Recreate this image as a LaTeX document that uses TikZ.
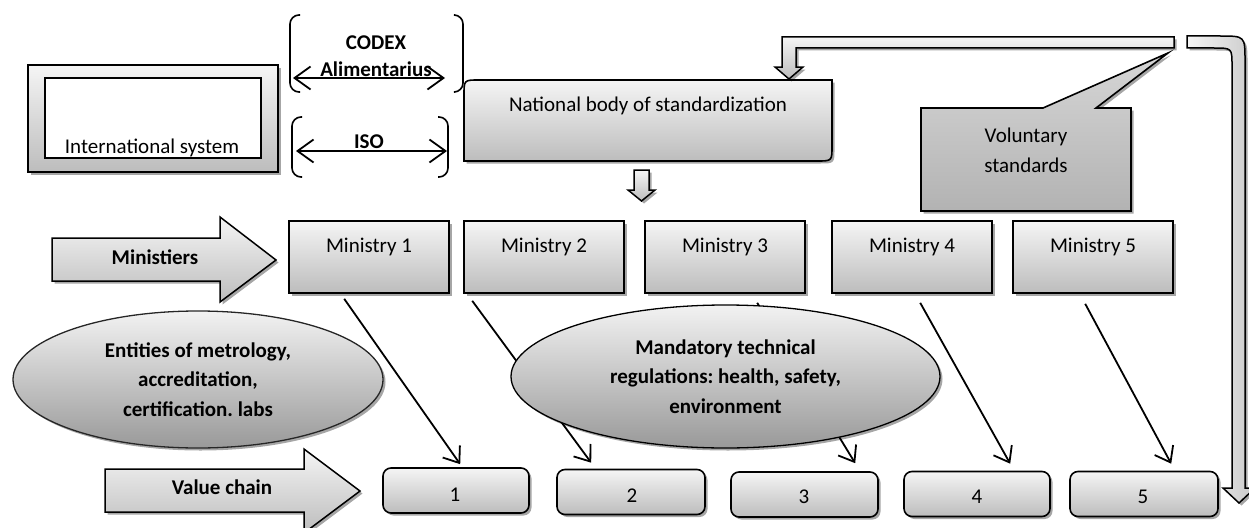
\documentclass[tikz,border=0pt]{standalone}
\usepackage{fontspec}
\setmainfont{Carlito}
\usetikzlibrary{shapes.geometric,shadows,calc,arrows.meta}
\definecolor{gtop}{gray}{0.96}
\definecolor{gbot}{gray}{0.74}
\definecolor{etop}{gray}{0.95}
\definecolor{ebot}{gray}{0.60}
\definecolor{vtop}{gray}{0.84}
\definecolor{vbot}{gray}{0.70}
\frenchspacing
\begin{document}
\begin{tikzpicture}[x=1pt,y=-1pt,
  font=\fontsize{21}{29.5}\selectfont,
  shd/.style={drop shadow={shadow xshift=2.5pt,shadow yshift=-2.5pt,fill=black,opacity=0.35}},
  gfill/.style={draw=black,line width=1.6pt,top color=gtop,bottom color=gbot,shd},
  mbox/.style={gfill,rectangle,minimum width=160pt,minimum height=72pt,inner sep=0pt},
  vbox/.style={gfill,rectangle,rounded corners=8pt,minimum height=45pt,inner sep=0pt},
  txt/.style={inner sep=0pt,anchor=base},
  btxt/.style={txt,font=\fontsize{21}{29.5}\selectfont\bfseries},
  ell/.style={ellipse,draw=black!85,line width=1.3pt,top color=etop,bottom color=ebot,shd,inner sep=0pt,align=center,font=\fontsize{21}{29.5}\selectfont\bfseries},
  conn/.style={line width=1.8pt,-{Straight Barb[length=14pt,width=21pt,line width=1.8pt]}},
  dconn/.style={line width=1.8pt,{Straight Barb[length=16pt,width=23pt,line width=1.8pt]}-{Straight Barb[length=16pt,width=23pt,line width=1.8pt]}},
  brk/.style={line width=1.6pt,rounded corners=9pt},
  blk/.style={draw=black,line width=1.5pt,top color=gtop,bottom color=gbot,shd,line join=miter}
]
\useasboundingbox (0,0) rectangle (1249,527);

% International system
\draw[gfill] (28,65) rectangle (278,172);
\draw[line width=1.6pt,fill=white] (45,78) rectangle (261,158);
\node[txt] (intl) at (152,153) {International system};

% CODEX and ISO brackets
\draw[brk] (300,15) -- (290,15) -- (290,92) -- (300,92);
\draw[brk] (455,15) -- (463,15) -- (463,92) -- (455,92);
\draw[brk] (302,117) -- (292,117) -- (292,177) -- (302,177);
\draw[brk] (438,117) -- (448,117) -- (448,177) -- (438,177);
\node[btxt] (codex) at (376,49) {CODEX};
\node[btxt] (alim) at (376,76) {Alimentarius};
\node[btxt] (iso) at (369,148) {ISO};
\coordinate (ca) at (293,78);
\coordinate (cb) at (445,78);
\coordinate (ia) at (296,151);
\coordinate (ib) at (447,151);
\draw[dconn] (ca) -- (cb);
\draw[dconn] (ia) -- (ib);

% National body of standardization
\path[gfill] (464,95) .. controls (464,80) .. (479,80) -- (832,80) -- (832,146)
  .. controls (832,161) .. (817,161) -- (464,161) -- cycle;
\node[txt] (nb) at (648,111) {National body of standardization};

% bent arrow from top bar to national body
\path[blk] (1174,37) -- (782,37) -- (782,67) -- (775,67) -- (789,79) -- (803,67)
  -- (796,67) -- (796,48) -- (1174,48) -- cycle;

% down arrow below national body
\path[blk] (634,170) -- (649,170) -- (649,190) -- (655,190) -- (641.5,201)
  -- (628,190) -- (634,190) -- cycle;

% right bent arrow going down to value chain
\path[draw=black,line width=1.5pt,left color=gtop,right color=gbot!80,shd]
  (1187,36) -- (1220,36) .. controls (1245,36) .. (1245,61) -- (1245,488)
  -- (1255,488) -- (1239,503) -- (1223,488) -- (1232,488) -- (1232,66)
  .. controls (1232,48) .. (1214,48) -- (1187,48) -- cycle;

% Voluntary standards callout
\path[draw=black,line width=1.6pt,top color=vtop,bottom color=vbot,shd,line join=miter]
  (921,108) -- (1043,108) -- (1168,53) -- (1096,108) -- (1131,108)
  -- (1131,211) -- (921,211) -- cycle;
\node[txt] (vol) at (1026,142) {Voluntary};
\node[txt] (std) at (1026,172) {standards};

% Ministiers block arrow
\path[blk] (52,238) -- (220,238) -- (220,217) -- (276,260) -- (220,302)
  -- (220,281) -- (52,281) -- cycle;
\node[btxt] (mins) at (155,264) {Ministiers};

% Value chain block arrow
\path[blk] (105,469) -- (304,469) -- (304,449) -- (360,491) -- (304,533)
  -- (304,512) -- (105,512) -- cycle;
\node[btxt] (vc) at (222,494) {Value chain};

% Ministries
\node[mbox] (m1) at (369,257) {};
\node[mbox] (m2) at (544,257) {};
\node[mbox] (m3) at (725,257) {};
\node[mbox] (m4) at (912,257) {};
\node[mbox] (m5) at (1093,257) {};
\node[txt] (tm1) at (369,252) {Ministry 1};
\node[txt] (tm2) at (544,252) {Ministry 2};
\node[txt] (tm3) at (725,252) {Ministry 3};
\node[txt] (tm4) at (912,252) {Ministry 4};
\node[txt] (tm5) at (1093,252) {Ministry 5};

% Value chain boxes
\node[vbox,minimum width=146pt] (v1) at (456,490.5) {};
\node[vbox,minimum width=148pt] (v2) at (631,492) {};
\node[vbox,minimum width=147pt] (v3) at (804.5,494.5) {};
\node[vbox,minimum width=146pt] (v4) at (977,494) {};
\node[vbox,minimum width=148pt] (v5) at (1144,494) {};
\node[txt] (tv1) at (455,501) {1};
\node[txt] (tv2) at (632,502) {2};
\node[txt] (tv3) at (804,503) {3};
\node[txt] (tv4) at (977,503) {4};
\node[txt] (tv5) at (1143,503) {5};

% connectors ministries -> value chain
\draw[conn] ($(m1.south west)+(56,5)$) -- ($(v1.north west)+(78,-3)$);
\draw[conn] ($(m2.south west)+(9,7)$) -- ($(v2.north west)+(35,-6)$);
\draw[conn] ($(m3.south west)+(113,9)$) -- ($(v3.north west)+(125,-8)$);
\draw[conn] ($(m4.south west)+(89,9)$) -- ($(v4.north west)+(107,-7)$);
\draw[conn] ($(m5.south west)+(73,10)$) -- ($(v5.north west)+(102,-7)$);

% ellipses
\node[ell,minimum width=370pt,minimum height=137pt] (ent) at (198,379.5)
  {Entities of metrology,\\accreditation,\\certification. labs};
\node[ell,minimum width=429pt,minimum height=143pt,draw=black] (mand) at (725.5,376.5)
  {Mandatory technical\\regulations: health, safety,\\environment};
\end{tikzpicture}
\end{document}
